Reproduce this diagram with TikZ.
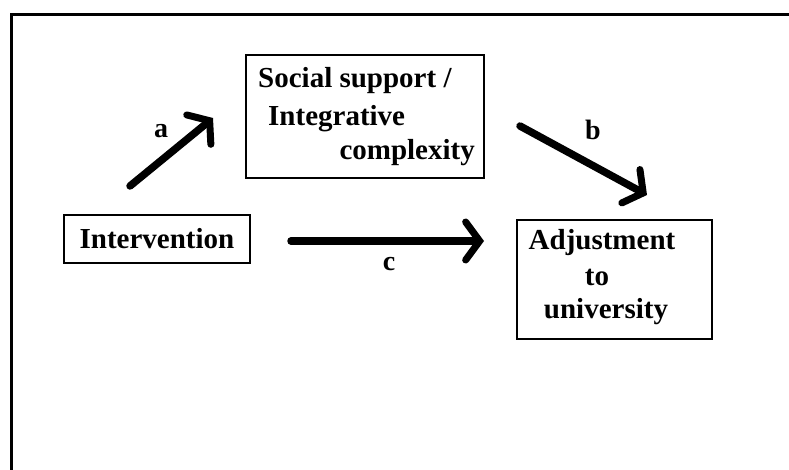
\documentclass[tikz,border=0pt]{standalone}
\usepackage{fontspec}
\setmainfont{Liberation Serif}
\usetikzlibrary{arrows.meta}
\begin{document}
\begin{tikzpicture}[x=1pt,y=-1pt,
  box/.style={draw=black, line width=2.4pt, inner sep=0pt},
  lbl/.style={font=\bfseries\fontsize{28}{34}\selectfont, inner sep=0pt, anchor=base},
  txt/.style={font=\bfseries\fontsize{29}{34}\selectfont, inner sep=0pt, anchor=base west},
  conn/.style={line width=7.5pt, line cap=round,
    -{Straight Barb[length=14pt, width=38pt, line width=7pt, line cap=round]}}
]
\useasboundingbox (0,0) rectangle (789,470);
% open outer frame
\coordinate (fbl) at (11,470);
\coordinate (ftl) at (11,15);
\coordinate (ftr) at (789,15);
\draw[line width=3pt] (fbl) -- (ftl) -- (ftr);

% boxes
\node[box, minimum width=238pt, minimum height=123pt] (soc) at (365,116.5) {};
\node[box, minimum width=186pt, minimum height=48pt,
      font=\bfseries\fontsize{29}{34}\selectfont] (int) at (157,239) {\raisebox{-2pt}{Intervention}};
\node[box, minimum width=195pt, minimum height=119pt] (adj) at (614.5,279.5) {};

% texts in Social support box
\node[txt] (s1) at (258,88) {Social support /};
\node[txt] (s2) at (268,126) {Integrative};
\node[txt, anchor=base east] (s3) at (475,160) {complexity};

% texts in Adjustment box
\node[lbl, font=\bfseries\fontsize{29}{34}\selectfont] (a1) at (602,250) {Adjustment};
\node[lbl, font=\bfseries\fontsize{29}{34}\selectfont] (a2) at (597,285) {to};
\node[lbl, font=\bfseries\fontsize{29}{34}\selectfont] (a3) at (606,318) {university};

% connector anchor points
\coordinate (pa1) at (130,186);
\coordinate (pa2) at (213,118);
\coordinate (pb1) at (520,126);
\coordinate (pb2) at (647,195);
\coordinate (pc1) at (291,241);
\coordinate (pc2) at (484,241);

\draw[conn] (pa1) -- (pa2);
\draw[conn] (pb1) -- (pb2);
\draw[conn] (pc1) -- (pc2);

% labels
\node[lbl] (la) at (161,138) {a};
\node[lbl] (lb) at (593,140) {b};
\node[lbl] (lc) at (389,270) {c};
\end{tikzpicture}
\end{document}
